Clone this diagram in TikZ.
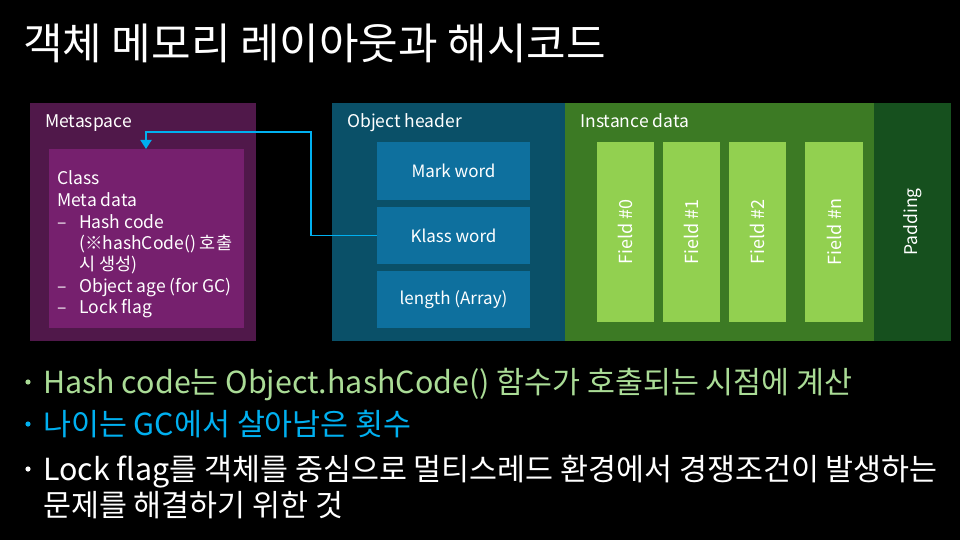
\documentclass[tikz,border=0pt]{standalone}
\usepackage{fontspec}
\setmainfont{Noto Sans CJK KR}
\usetikzlibrary{arrows.meta}
\definecolor{msouter}{RGB}{80,24,74}
\definecolor{msinner}{RGB}{118,32,110}
\definecolor{hdrbg}{RGB}{10,80,104}
\definecolor{hdrbox}{RGB}{14,112,158}
\definecolor{instbg}{RGB}{60,122,36}
\definecolor{padbg}{RGB}{22,80,30}
\definecolor{fieldbg}{RGB}{146,208,80}
\definecolor{linkblue}{RGB}{0,176,240}
\definecolor{greentxt}{RGB}{170,220,150}
\tikzset{
  region/.style={draw=none, inner sep=0, outer sep=0},
  lbl/.style={inner sep=0, anchor=base west, text=white, font=\fontsize{17.5}{20}\selectfont},
  hbox/.style={fill=hdrbox, inner sep=0, outer sep=0, text=white, font=\fontsize{17}{19}\selectfont},
  fbox/.style={fill=fieldbg, inner sep=0, outer sep=0, text=white, font=\fontsize{18}{20}\selectfont},
  bul/.style={inner sep=0, anchor=base west, font=\fontsize{30.4}{33}\selectfont},
}
\begin{document}
\begin{tikzpicture}[x=1pt,y=-1pt]
\fill[black] (0,0) rectangle (960,540);
\useasboundingbox (0,0) rectangle (960,540);
% title
\node[inner sep=0, anchor=base west, text=white, font=\fontsize{43}{46}\selectfont] (title) at (23,60) {객체 메모리 레이아웃과 해시코드};
% metaspace
\fill[msouter] (30,103) rectangle (256,341);
\node[region] (ms) at (143,222) {};
\fill[msinner] (49,149) rectangle (244,328);
\coordinate (msin) at (146,149);
\node[lbl] (mslbl) at (45,128) {Metaspace};
\begin{scope}[every node/.style={lbl}]
\node (c1) at (57,184) {Class};
\node (c2) at (57,206) {Meta data};
\node (d1) at (57,228) {–};
\node (t1) at (79,228) {Hash code};
\node (t2) at (79,249) {(※hashCode() 호출};
\node (t3) at (79,270) {시 생성)};
\node (d2) at (57,292) {–};
\node (t4) at (79,292) {Object age (for GC)};
\node (d3) at (57,313) {–};
\node (t5) at (79,313) {Lock flag};
\end{scope}
% object header
\fill[hdrbg] (332,103) rectangle (565,341);
\node[lbl] (hdrlbl) at (347,128) {Object header};
\node[hbox, minimum width=153pt, minimum height=58pt] (mark) at (453.5,171) {Mark word};
\node[hbox, minimum width=153pt, minimum height=57pt] (klass) at (453.5,235.5) {Klass word};
\node[hbox, minimum width=153pt, minimum height=57pt] (len) at (453.5,299.5) {length (Array)};
% instance data
\fill[instbg] (565,103) rectangle (874,341);
\node[lbl] (instlbl) at (580,128) {Instance data};
\node[fbox, minimum width=57pt, minimum height=180pt] (f0) at (625.5,232) {\rotatebox{90}{Field \#0}};
\node[fbox, minimum width=57pt, minimum height=180pt] (f1) at (691.5,232) {\rotatebox{90}{Field \#1}};
\node[fbox, minimum width=57pt, minimum height=180pt] (f2) at (757.5,232) {\rotatebox{90}{Field \#2}};
\node[fbox, minimum width=58pt, minimum height=180pt] (fn) at (834,232) {\rotatebox{90}{Field \#n}};
% padding
\fill[padbg] (874,103) rectangle (951,341);
\node[inner sep=0, text=white, font=\fontsize{17.5}{19}\selectfont] (pad) at (912.5,222) {\rotatebox{90}{Padding}};
% connector
\draw[linkblue, line width=1.8pt, -{Triangle[length=9pt, width=11pt]}] (klass.west) -| (311,132) -| (msin);
% bullets
\node[bul, text=greentxt] (b1) at (43,393) {Hash code는 Object.hashCode() 함수가 호출되는 시점에 계산};
\node[bul, text=linkblue] (b2) at (43,435) {나이는 GC에서 살아남은 횟수};
\node[bul, text=white] (b3) at (43,480) {Lock flag를 객체를 중심으로 멀티스레드 환경에서 경쟁조건이 발생하는};
\node[bul, text=white] (b4) at (43,516) {문제를 해결하기 위한 것};
\fill[greentxt] (28,382) circle (2.6);
\fill[linkblue] (28,424) circle (2.6);
\fill[white] (28,469) circle (2.6);
\end{tikzpicture}
\end{document}
